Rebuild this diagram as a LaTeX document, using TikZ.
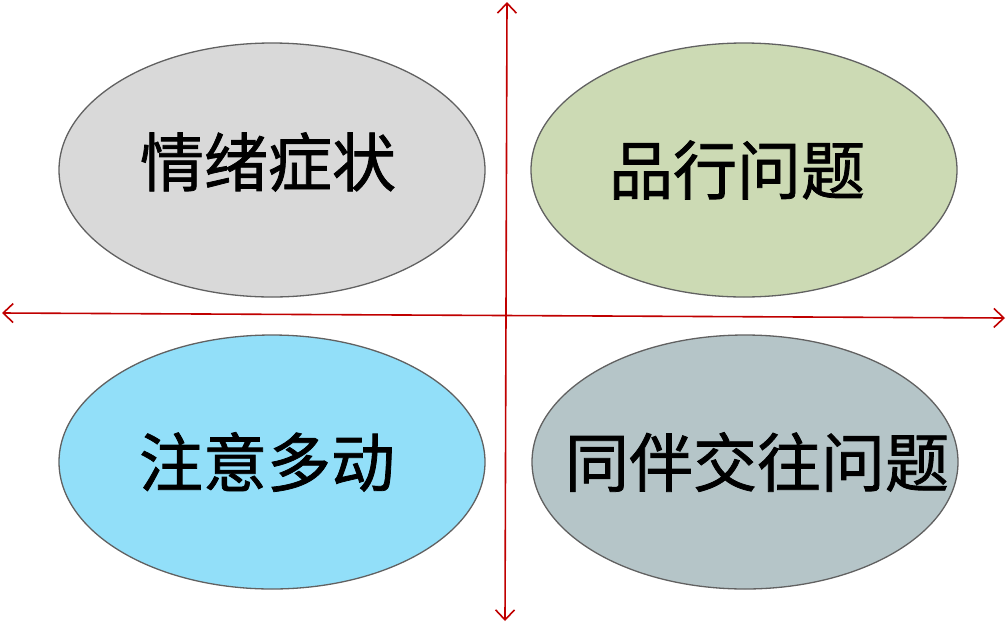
\documentclass[tikz,border=0pt]{standalone}
\usepackage{fontspec}
\newfontfamily\cjk[UprightFeatures={FakeBold=1.2}]{Noto Sans CJK SC}
\usetikzlibrary{arrows.meta,shapes.geometric,positioning}
\definecolor{moodgray}{HTML}{D9D9D9}
\definecolor{conductgreen}{HTML}{CCDAB4}
\definecolor{hyperblue}{HTML}{92DFF9}
\definecolor{peergray}{HTML}{B5C5C8}
\definecolor{axisred}{HTML}{C00000}
\tikzset{
  basic/.style = {draw=black!62, line width=1.3pt, ellipse, inner sep=0pt,
                  minimum width=426pt, minimum height=254pt},
  label/.style = {font=\cjk\fontsize{64pt}{64pt}\selectfont, inner sep=0pt},
  axis/.style  = {draw=axisred, line width=1.6pt}
}
\newcommand{\lift}{8pt}

\begin{document}
\begin{tikzpicture}[x=1pt, y=-1pt,
  >={Straight Barb[length=10pt,width=19pt,line width=1.6pt]}]
\useasboundingbox (0,0) rectangle (1007,622);

% the four quadrants
\node[basic, fill=moodgray]     (q1) at (272,170) {};
\node[basic, fill=conductgreen] (q2) at (744,170) {};
\node[basic, fill=hyperblue]    (q3) at (272,462) {};
\node[basic, fill=peergray]     (q4) at (745,462) {};

% texts in the quadrants
\node[label] (t1) at ([xshift=-4pt, yshift=\lift]q1) {情绪症状};
\node[label] (t2) at ([xshift=-7pt]q2) {品行问题};
\node[label] (t3) at ([xshift=-5pt]q3) {注意多动};
\node[label] (t4) at ([xshift=12pt]q4) {同伴交往问题};

% the two axes
\coordinate (top)    at (507,2);
\coordinate (bottom) at (505,621);
\coordinate (left)   at (2,313);
\coordinate (right)  at (1005,318);
\draw[axis, <->] (bottom) -- (top);
\draw[axis, <->] (left) -- (right);
\end{tikzpicture}
\end{document}
